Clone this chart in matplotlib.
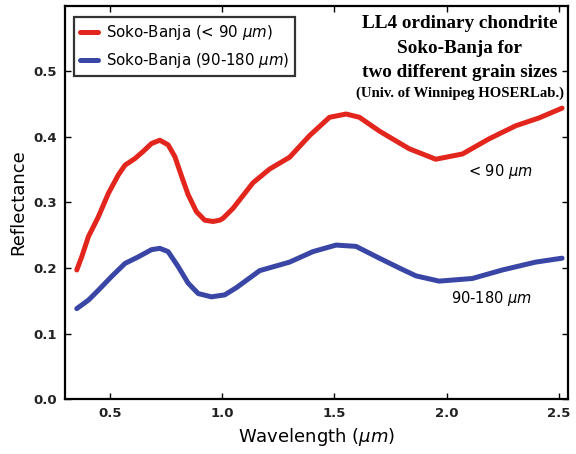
import matplotlib
matplotlib.use("Agg")
import matplotlib.pyplot as plt

# Red: < 90 um
wl_fine = [0.352, 0.374, 0.404, 0.448, 0.493, 0.537, 0.567, 0.611, 0.648, 0.685, 0.722,
           0.759, 0.789, 0.819, 0.848, 0.885, 0.922, 0.959, 0.989, 1.004, 1.048, 1.137,
           1.211, 1.300, 1.389, 1.478, 1.552, 1.611, 1.700, 1.744, 1.833, 1.951, 2.070,
           2.188, 2.307, 2.411, 2.514]
refl_fine = [0.197, 0.217, 0.248, 0.278, 0.314, 0.342, 0.357, 0.367, 0.378, 0.390, 0.395,
             0.388, 0.370, 0.340, 0.312, 0.286, 0.273, 0.271, 0.273, 0.276, 0.291, 0.330,
             0.351, 0.369, 0.402, 0.430, 0.435, 0.430, 0.409, 0.400, 0.382, 0.366, 0.374,
             0.397, 0.417, 0.429, 0.444]

# Blue: 90-180 um
wl_coarse = [0.352, 0.404, 0.448, 0.507, 0.567, 0.626, 0.685, 0.722, 0.759, 0.804, 0.848,
             0.893, 0.952, 1.011, 1.063, 1.167, 1.300, 1.404, 1.507, 1.596, 1.700, 1.789,
             1.863, 1.966, 2.114, 2.248, 2.396, 2.514]
refl_coarse = [0.138, 0.151, 0.166, 0.187, 0.207, 0.217, 0.228, 0.230, 0.225, 0.202, 0.177,
               0.161, 0.156, 0.159, 0.170, 0.196, 0.209, 0.225, 0.235, 0.233, 0.215, 0.200,
               0.188, 0.180, 0.184, 0.197, 0.209, 0.215]

xticks = [0.5, 1.0, 1.5, 2.0, 2.5]
yticks = [0.0, 0.1, 0.2, 0.3, 0.4, 0.5]

fig = plt.figure(figsize=(5.76, 4.54), dpi=100)
ax = fig.add_axes([0.113, 0.121, 0.873, 0.866])

red = '#e3261d'
blue = '#3a46a6'
ax.plot(wl_fine, refl_fine, color=red, lw=3.6, label=r'Soko-Banja (< 90 $\mu m$)',
        solid_capstyle='round', solid_joinstyle='round')
ax.plot(wl_coarse, refl_coarse, color=blue, lw=3.6, label=r'Soko-Banja (90-180 $\mu m$)',
        solid_capstyle='round', solid_joinstyle='round')

ax.set_xlim(0.30, 2.54)
ax.set_ylim(0.0, 0.6)
ax.set_xticks(xticks)
ax.set_yticks(yticks)
ax.set_xticklabels([f'{v:.1f}' for v in xticks], fontsize=9.5, fontweight='bold', color='#222222')
ax.set_yticklabels([f'{v:.1f}' for v in yticks], fontsize=9.5, fontweight='bold', color='#222222')
ax.tick_params(direction='in', top=True, right=True, length=4, width=1, pad=6)
for s in ax.spines.values():
    s.set_linewidth(1.6)

ax.set_xlabel(r'Wavelength ($\mu m$)', fontsize=13)
ax.set_ylabel('Reflectance', fontsize=13)

leg = ax.legend(loc='upper left', fontsize=10.8, frameon=True, fancybox=False,
                handlelength=1.25, handletextpad=0.5, borderpad=0.4, labelspacing=0.6,
                bbox_to_anchor=(0.002, 0.99))
leg.get_frame().set_edgecolor('black')
leg.get_frame().set_linewidth(1.6)

tx = 0.785
ax.text(tx, 0.977, 'LL4 ordinary chondrite', transform=ax.transAxes, ha='center', va='top',
        family='Liberation Serif', fontweight='bold', fontsize=13.8)
ax.text(tx, 0.914, 'Soko-Banja for', transform=ax.transAxes, ha='center', va='top',
        family='Liberation Serif', fontweight='bold', fontsize=13.8)
ax.text(tx, 0.851, 'two different grain sizes', transform=ax.transAxes, ha='center', va='top',
        family='Liberation Serif', fontweight='bold', fontsize=13.8)
ax.text(tx, 0.795, '(Univ. of Winnipeg HOSERLab.)', transform=ax.transAxes, ha='center', va='top',
        family='Liberation Serif', fontweight='bold', fontsize=10.6)

ax.text(2.238, 0.347, r'< 90 $\mu m$', ha='center', va='center', fontsize=10.5)
ax.text(2.198, 0.154, r'90-180 $\mu m$', ha='center', va='center', fontsize=10.5)

fig.savefig('out.png', dpi=100)
